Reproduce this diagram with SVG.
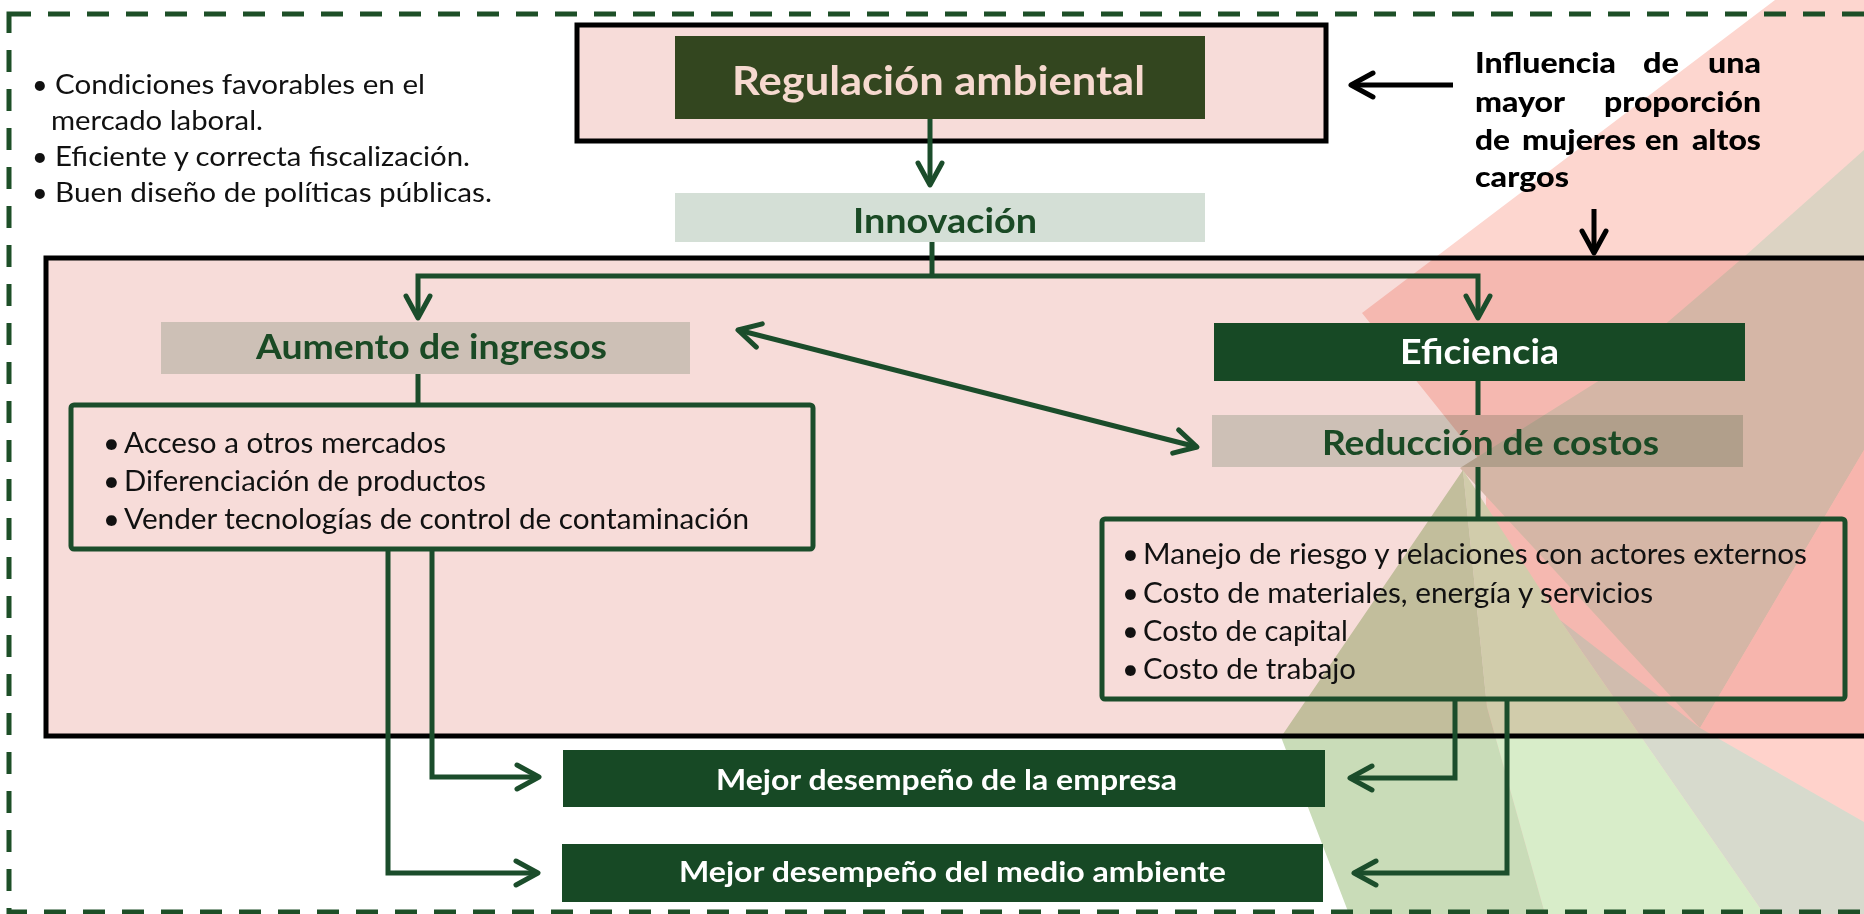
<svg xmlns="http://www.w3.org/2000/svg" width="1864" height="914" viewBox="0 0 1864 914">
<style>
.bg{stroke:none}
.mult{mix-blend-mode:multiply}
.title{font-family:Lato,"Open Sans","Liberation Sans",sans-serif;font-weight:bold}
.body{font-family:Lato,"Open Sans","Liberation Sans",sans-serif;font-size:29px;fill:#111}
.small{font-family:Lato,"Open Sans","Liberation Sans",sans-serif;font-size:27px;fill:#111}
.inf{font-family:Lato,"Open Sans","Liberation Sans",sans-serif;font-size:29px;font-weight:900;fill:#000}
.gline{fill:none;stroke:#1b4d2b;stroke-width:5}
.bline{fill:none;stroke:#000;stroke-width:5}
.dark{fill:#174925}
.light{fill:#d4dfd6}
.hdr{font-size:34px;fill:#1a4a25}
.wh{font-size:29px;fill:#fff}
</style>
<defs>
<marker id="ag" viewBox="-4 -16 32 32" refX="23" refY="0" markerWidth="32" markerHeight="32" markerUnits="userSpaceOnUse" orient="auto-start-reverse">
<path d="M1,-12 L23,0 L1,12" fill="none" stroke="#1b4d2b" stroke-width="5" stroke-linecap="round" stroke-linejoin="round"/>
</marker>
<marker id="ab" viewBox="-4 -16 32 32" refX="23" refY="0" markerWidth="32" markerHeight="32" markerUnits="userSpaceOnUse" orient="auto">
<path d="M1,-12 L23,0 L1,12" fill="none" stroke="#000" stroke-width="5" stroke-linecap="round" stroke-linejoin="round"/>
</marker>
</defs>
<rect width="1864" height="914" fill="#fff"/>
<g id="background">
<polygon class="bg" fill="#fdd6cf" points="1775,0 1864,0 1864,914 1486,914 1486,468 1362,313"/>
<polygon class="bg" fill="#dcd3c3" points="1864,150 1745,256 1600,380 1460,468 1700,728 1864,450"/>
<polygon class="bg" fill="#ffd2cb" points="1864,450 1700,728 1864,822"/>
<polygon class="bg" fill="#d7dacd" points="1560,620 1700,728 1864,822 1864,914 1764,914"/>
<polygon class="bg" fill="#d8edc9" points="1463,470 1560,620 1764,914 1545,914 1487,707"/>
<polygon class="bg" fill="#c9dcb8" points="1463,470 1487,707 1545,914 1349,914 1281,737"/>
</g>
<rect id="frame" x="9" y="14" width="1900" height="898" fill="none" stroke="#1d4f27" stroke-width="5" stroke-dasharray="22 17"/>
<g id="main-area">
<rect class="mult" x="46" y="258" width="1900" height="478" fill="#f7dcd9" stroke="#000" stroke-width="5"/>
</g>
<g id="conditions">
<text class="small" x="32" y="94">•</text>
<text class="small" x="55" y="94" textLength="370" lengthAdjust="spacingAndGlyphs">Condiciones favorables en el</text>
<text class="small" x="51" y="130" textLength="212" lengthAdjust="spacingAndGlyphs">mercado laboral.</text>
<text class="small" x="32" y="166">•</text>
<text class="small" x="55" y="166" textLength="415" lengthAdjust="spacingAndGlyphs">Eficiente y correcta fiscalización.</text>
<text class="small" x="32" y="202">•</text>
<text class="small" x="55" y="202" textLength="437" lengthAdjust="spacingAndGlyphs">Buen diseño de políticas públicas.</text>
</g>
<g id="regulacion">
<rect x="577" y="25" width="749" height="116" fill="#f7dcd9" stroke="#000" stroke-width="5"/>
<rect x="675" y="36" width="530" height="83" fill="#33461f"/>
<text class="title" x="732" y="95" font-size="41" fill="#f6d9cf" textLength="413" lengthAdjust="spacingAndGlyphs">Regulación ambiental</text>
</g>
<g id="influencia">
<text class="inf" x="1475" y="73" textLength="141" lengthAdjust="spacingAndGlyphs">Influencia</text>
<text class="inf" x="1643" y="73" textLength="36" lengthAdjust="spacingAndGlyphs">de</text>
<text class="inf" x="1708" y="73" textLength="53" lengthAdjust="spacingAndGlyphs">una</text>
<text class="inf" x="1475" y="112" textLength="90" lengthAdjust="spacingAndGlyphs">mayor</text>
<text class="inf" x="1604" y="112" textLength="157" lengthAdjust="spacingAndGlyphs">proporción</text>
<text class="inf" x="1475" y="150" textLength="35" lengthAdjust="spacingAndGlyphs">de</text>
<text class="inf" x="1522" y="150" textLength="114" lengthAdjust="spacingAndGlyphs">mujeres</text>
<text class="inf" x="1645" y="150" textLength="34" lengthAdjust="spacingAndGlyphs">en</text>
<text class="inf" x="1692" y="150" textLength="69" lengthAdjust="spacingAndGlyphs">altos</text>
<text class="inf" x="1475" y="187" textLength="94" lengthAdjust="spacingAndGlyphs">cargos</text>
</g>
<g id="innovacion">
<rect class="light mult" x="675" y="193" width="530" height="49"/>
<text class="title hdr" x="853" y="233" font-size="37" textLength="184" lengthAdjust="spacingAndGlyphs">Innovación</text>
</g>
<g id="aumento">
<rect class="light mult" x="161" y="322" width="529" height="52"/>
<text class="title hdr" x="256" y="359" textLength="351" lengthAdjust="spacingAndGlyphs">Aumento de ingresos</text>
</g>
<g id="ingresos-lista">
<rect x="71" y="405" width="742" height="144" rx="3" fill="none" stroke="#1b4d2b" stroke-width="5"/>
<text class="body" x="103" y="453">•</text>
<text class="body" x="124" y="453" textLength="322" lengthAdjust="spacingAndGlyphs">Acceso a otros mercados</text>
<text class="body" x="103" y="491">•</text>
<text class="body" x="124" y="491" textLength="362" lengthAdjust="spacingAndGlyphs">Diferenciación de productos</text>
<text class="body" x="103" y="529">•</text>
<text class="body" x="124" y="529" textLength="625" lengthAdjust="spacingAndGlyphs">Vender tecnologías de control de contaminación</text>
</g>
<g id="eficiencia">
<rect class="dark" x="1214" y="323" width="531" height="58"/>
<text class="title" x="1400" y="364" font-size="34" fill="#fff" textLength="159" lengthAdjust="spacingAndGlyphs">Eficiencia</text>
</g>
<g id="reduccion">
<rect class="light mult" x="1212" y="415" width="531" height="52"/>
<text class="title hdr" x="1322" y="455" textLength="337" lengthAdjust="spacingAndGlyphs">Reducción de costos</text>
</g>
<g id="costos-lista">
<rect x="1102" y="519" width="743" height="180" rx="3" fill="none" stroke="#1b4d2b" stroke-width="5"/>
<text class="body" x="1122" y="564">•</text>
<text class="body" x="1143" y="564" textLength="664" lengthAdjust="spacingAndGlyphs">Manejo de riesgo y relaciones con actores externos</text>
<text class="body" x="1122" y="603">•</text>
<text class="body" x="1143" y="603" textLength="510" lengthAdjust="spacingAndGlyphs">Costo de materiales, energía y servicios</text>
<text class="body" x="1122" y="641">•</text>
<text class="body" x="1143" y="641" textLength="205" lengthAdjust="spacingAndGlyphs">Costo de capital</text>
<text class="body" x="1122" y="679">•</text>
<text class="body" x="1143" y="679" textLength="213" lengthAdjust="spacingAndGlyphs">Costo de trabajo</text>
</g>
<g id="empresa">
<rect class="dark" x="563" y="750" width="762" height="57"/>
<text class="title wh" x="716" y="790" textLength="461" lengthAdjust="spacingAndGlyphs">Mejor desempeño de la empresa</text>
</g>
<g id="medio-ambiente">
<rect class="dark" x="562" y="844" width="761" height="58"/>
<text class="title wh" x="679" y="882" textLength="547" lengthAdjust="spacingAndGlyphs">Mejor desempeño del medio ambiente</text>
</g>
<g id="connectors">
<path class="gline" d="M930,119 V185" marker-end="url(#ag)"/>
<path class="gline" d="M932,242 V276"/>
<path class="gline" d="M418,318 V276 H1478 V318" marker-start="url(#ag)" marker-end="url(#ag)"/>
<path class="gline" d="M418,374 V405"/>
<path class="gline" d="M738,330 L1197,447" marker-start="url(#ag)" marker-end="url(#ag)"/>
<path class="gline" d="M1478,381 V415"/>
<path class="gline" d="M1478,467 V519"/>
<path class="gline" d="M432,549 V777 H539" marker-end="url(#ag)"/>
<path class="gline" d="M388,549 V873 H538" marker-end="url(#ag)"/>
<path class="gline" d="M1455,699 V778 H1350" marker-end="url(#ag)"/>
<path class="gline" d="M1507,699 V873 H1354" marker-end="url(#ag)"/>
<path class="bline" d="M1453,85 H1351" marker-end="url(#ab)"/>
<path class="bline" d="M1594,209 V253" marker-end="url(#ab)"/>
</g>
</svg>
